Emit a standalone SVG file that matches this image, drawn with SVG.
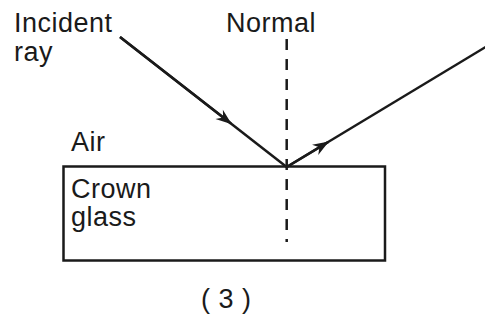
<svg xmlns="http://www.w3.org/2000/svg" width="485" height="322" viewBox="0 0 485 322">
<style>
text{font-family:"Liberation Sans",Arial,sans-serif;font-size:27px;fill:#1a1a1a;letter-spacing:0.5px}
.ray{stroke:#1a1a1a;stroke-width:2.5;fill:none}
.normal{stroke:#1a1a1a;stroke-width:2.5;stroke-dasharray:11 9;fill:none}
</style>
<defs>
<marker id="arr" markerUnits="userSpaceOnUse" viewBox="-16 -7 18 14" refX="0" refY="0" markerWidth="18" markerHeight="14" orient="auto" overflow="visible">
<path d="M1,0 L-15,-6 L-10,0 L-15,6 Z" fill="#1a1a1a"/>
</marker>
</defs>
<rect width="485" height="322" fill="#fff"/>
<g id="glass">
<rect x="63.5" y="166.5" width="321.5" height="94" fill="none" stroke="#1a1a1a" stroke-width="2.5"/>
<text x="71" y="198">Crown</text>
<text x="71" y="226">glass</text>
</g>
<g id="air"><text x="71" y="151">Air</text></g>
<g id="incident-label"><text x="14" y="32">Incident</text><text x="14" y="61">ray</text></g>
<g id="normal-label"><text x="226" y="32">Normal</text></g>
<g id="caption"><text x="201" y="308">( 3 )</text></g>
<g id="connectors">
<line class="normal" x1="286.7" y1="39" x2="286.7" y2="242"/>
<line class="ray" x1="120" y1="37" x2="286.7" y2="167"/>
<line class="ray" x1="120" y1="37" x2="231" y2="123.6" marker-end="url(#arr)"/>
<line class="ray" x1="286.7" y1="167" x2="486" y2="46.8"/>
<line class="ray" x1="286.7" y1="167" x2="328" y2="142.1" marker-end="url(#arr)"/>
</g>
</svg>
